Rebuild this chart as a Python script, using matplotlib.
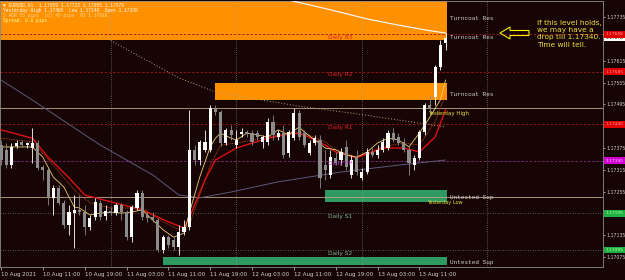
import matplotlib
matplotlib.use('Agg')
import matplotlib.pyplot as plt
import matplotlib.transforms as mtransforms
from matplotlib.patches import Rectangle, Polygon
import numpy as np

# ---------------- data ----------------
opens = [1.17383,1.17370,1.17328,1.17381,1.17392,1.17383,1.17375,1.17389,1.17323,1.17315,
 1.17238,1.17265,1.17224,1.17163,1.17196,1.17205,1.17199,1.17158,1.17185,1.17224,
 1.17188,1.17202,1.17196,1.17218,1.17199,1.17130,1.17210,1.17251,1.17191,1.17185,
 1.17177,1.17095,1.17130,1.17122,1.17103,1.17144,1.17158,1.17370,1.17342,1.17370,
 1.17370,1.17485,1.17474,1.17389,1.17425,1.17383,1.17414,1.17419,1.17416,1.17416,
 1.17392,1.17392,1.17447,1.17405,1.17416,1.17361,1.17402,1.17471,1.17416,1.17361,
 1.17389,1.17397,1.17328,1.17301,1.17348,1.17342,1.17378,1.17301,1.17350,1.17293,
 1.17309,1.17364,1.17356,1.17370,1.17375,1.17416,1.17405,1.17392,1.17370,1.17328,
 1.17348,1.17419,1.17493,1.17515,1.17598,1.17664]
highs = [1.17397,1.17389,1.17389,1.17397,1.17397,1.17392,1.17430,1.17397,1.17328,1.17320,
 1.17273,1.17273,1.17232,1.17218,1.17246,1.17246,1.17218,1.17191,1.17238,1.17232,
 1.17218,1.17213,1.17224,1.17224,1.17205,1.17218,1.17260,1.17260,1.17199,1.17199,
 1.17183,1.17136,1.17136,1.17130,1.17163,1.17177,1.17480,1.17383,1.17397,1.17425,
 1.17493,1.17493,1.17480,1.17430,1.17438,1.17425,1.17430,1.17425,1.17425,1.17425,
 1.17411,1.17457,1.17466,1.17425,1.17438,1.17425,1.17485,1.17480,1.17425,1.17397,
 1.17411,1.17411,1.17370,1.17370,1.17364,1.17375,1.17397,1.17356,1.17370,1.17320,
 1.17375,1.17375,1.17383,1.17402,1.17425,1.17430,1.17416,1.17402,1.17383,1.17356,
 1.17425,1.17499,1.17521,1.17603,1.17672,1.17691]
lows = [1.17328,1.17320,1.17320,1.17375,1.17378,1.17375,1.17334,1.17315,1.17287,1.17218,
 1.17191,1.17218,1.17155,1.17136,1.17100,1.17191,1.17136,1.17150,1.17177,1.17177,
 1.17177,1.17191,1.17191,1.17177,1.17122,1.17117,1.17205,1.17177,1.17172,1.17172,
 1.17089,1.17086,1.17100,1.17095,1.17081,1.17136,1.17150,1.17328,1.17328,1.17364,
 1.17364,1.17466,1.17381,1.17383,1.17397,1.17375,1.17405,1.17405,1.17383,1.17397,
 1.17375,1.17383,1.17397,1.17397,1.17348,1.17350,1.17397,1.17397,1.17378,1.17356,
 1.17383,1.17265,1.17287,1.17293,1.17328,1.17328,1.17315,1.17293,1.17301,1.17287,
 1.17304,1.17350,1.17348,1.17364,1.17370,1.17392,1.17383,1.17364,1.17301,1.17315,
 1.17342,1.17411,1.17474,1.17493,1.17590,1.17645]
closes = [1.17342,1.17328,1.17378,1.17389,1.17383,1.17389,1.17389,1.17320,1.17315,1.17240,
 1.17265,1.17224,1.17163,1.17199,1.17205,1.17199,1.17158,1.17183,1.17227,1.17185,
 1.17202,1.17196,1.17218,1.17199,1.17130,1.17213,1.17251,1.17185,1.17183,1.17177,
 1.17095,1.17130,1.17108,1.17103,1.17144,1.17158,1.17370,1.17342,1.17392,1.17392,
 1.17485,1.17474,1.17389,1.17425,1.17411,1.17397,1.17419,1.17414,1.17392,1.17405,
 1.17405,1.17447,1.17411,1.17416,1.17356,1.17419,1.17471,1.17405,1.17383,1.17389,
 1.17402,1.17293,1.17315,1.17350,1.17334,1.17364,1.17323,1.17342,1.17309,1.17309,
 1.17364,1.17356,1.17370,1.17392,1.17416,1.17397,1.17389,1.17370,1.17334,1.17348,
 1.17419,1.17493,1.17485,1.17598,1.17658,1.17678]

# indicator lines (bar index, price)
red_idx = [0,6,9,13,16,21,27,32,35,36,37,39,41,45,51,56,58,62,64,68,73,77,80,83,85]
red_val = [1.17425,1.17402,1.17350,1.17293,1.17246,1.17227,1.17205,1.17172,1.17155,1.17183,
           1.17218,1.17287,1.17342,1.17375,1.17402,1.17416,1.17411,1.17383,1.17364,1.17348,
           1.17375,1.17375,1.17364,1.17405,1.17480]
yel_idx = [0,3,6,8,10,12,14,15,17,19,21,23,25,27,29,31,33,35,36,38,40,41,42,44,45,47,49,51,53,55,
           57,58,60,62,64,66,68,70,72,74,76,78,80,82,84,85]
yel_val = [1.17378,1.17378,1.17378,1.17350,1.17295,1.17268,1.17213,1.17210,1.17191,1.17196,
           1.17199,1.17196,1.17199,1.17205,1.17177,1.17150,1.17130,1.17141,1.17196,1.17295,
           1.17378,1.17402,1.17416,1.17402,1.17397,1.17416,1.17411,1.17405,1.17425,1.17411,
           1.17433,1.17419,1.17397,1.17375,1.17370,1.17356,1.17350,1.17364,1.17389,1.17402,
           1.17397,1.17378,1.17416,1.17460,1.17507,1.17562]
mid_idx = [0,6,10,14,17,21,27,31,35,36,38,40,42,45,51,56,58,62,64,68,73,77,80,83,85]
mid_val = [1.17402,1.17392,1.17328,1.17260,1.17224,1.17210,1.17210,1.17172,1.17144,1.17163,
           1.17246,1.17328,1.17383,1.17389,1.17405,1.17419,1.17416,1.17392,1.17370,1.17350,
           1.17378,1.17389,1.17383,1.17447,1.17521]
slate_idx = [0,6,19,29,34,38,44,53,65,76,85]
slate_val = [1.17562,1.17507,1.17383,1.17301,1.17246,1.17238,1.17254,1.17282,1.17309,1.17328,1.17342]
tan_idx = [19,27,34,41,50,57,67,76,85]
tan_val = [1.17686,1.17623,1.17568,1.17529,1.17507,1.17490,1.17471,1.17452,1.17433]
white_idx = [48,55,63,70,76,81,85]
white_val = [1.17810,1.17782,1.17755,1.17730,1.17713,1.17700,1.17691]

# pivot levels
level_names = ['Daily R3', 'Daily R2', 'Daily R1', 'Daily PP', 'Daily S1', 'Daily S2']
level_values = [1.17688, 1.17585, 1.17440, 1.17340, 1.17195, 1.17095]
yesterday_high = 1.17485
yesterday_low = 1.17240
current_price = 1.17678

# supply / demand zones
zone_start = [-1, 41, 62, 31]
zone_top = [1.17800, 1.17554, 1.17260, 1.17075]
zone_bottom = [1.17672, 1.17507, 1.17227, 1.17053]
zone_kind = ['res', 'res', 'sup', 'sup']
zone_label_prices = [1.17730, 1.17678, 1.17521, 1.17240, 1.17059]
zone_label_texts = ['Turncoat Res', 'Turncoat Res', 'Turncoat Res', 'Untested Sup', 'Untested Sup']

# axes labels
x_tick_idx = [0, 8, 16, 24, 32, 40, 48, 56, 64, 72, 80]
x_tick_labels = ['10 Aug 2021', '10 Aug 11:00', '10 Aug 19:00', '11 Aug 03:00', '11 Aug 11:00',
                 '11 Aug 19:00', '12 Aug 03:00', '12 Aug 11:00', '12 Aug 19:00', '13 Aug 03:00',
                 '13 Aug 11:00']
day_sep_idx = [21, 45, 69, 93]
price_ticks = [1.17735, 1.17615, 1.17555, 1.17495, 1.17375, 1.17315, 1.17255, 1.17135, 1.17075]

# ---------------- style ----------------
BG = '#170404'
BULL = '#ffffff'
BEAR = '#8c8c8c'
ORANGE = '#ff9000'
GREEN = '#2e9a62'
W, H = 625, 280

fig = plt.figure(figsize=(W / 100, H / 100), dpi=100, facecolor=BG)
ax = fig.add_axes([0, 13 / H, 603 / W, 266 / H])
ax.set_facecolor(BG)
ax.set_xlim(-1 / 5.23, 602 / 5.23)
ax.set_ylim(1.170478, 1.177793)
for s in ax.spines.values():
    s.set_color('#8c8c8c')
    s.set_linewidth(0.6)

# zones
last = len(opens) - 1
for st, tp, bt, kd in zip(zone_start, zone_top, zone_bottom, zone_kind):
    ax.add_patch(Rectangle((st, bt), last + 0.2 - st, tp - bt,
                           facecolor=ORANGE if kd == 'res' else GREEN,
                           edgecolor='none', zorder=1))
for p, t in zip(zone_label_prices, zone_label_texts):
    ax.text(last + 0.9, p, t, fontsize=4.3, family='Liberation Mono', color='#d0d0d0',
            va='center', ha='left', zorder=6)

# day separators
for d in day_sep_idx:
    ax.axvline(d, color='#9a9a9a', lw=0.5, ls=(0, (1, 2)), zorder=2)

# pivot lines
lvl_line_col = ['#9a1515', '#9a1515', '#9a1515', '#8a2a8a', '#707070', '#707070']
lvl_txt_col = ['#e02020', '#e02020', '#e02020', '#b040c0', '#7fb88f', '#7fb88f']
lvl_ls = [(0, (3, 2))] * 4 + [(0, (1, 2))] * 2
for name, v, lc, tc, ls in zip(level_names, level_values, lvl_line_col, lvl_txt_col, lvl_ls):
    ax.axhline(v, color=lc, lw=0.6, ls=ls, zorder=2)
    ax.annotate(name, (64.8, v), xytext=(0, -0.5), textcoords='offset points',
                fontsize=4.2, color=tc, ha='center', va='top', zorder=6)
for v in (yesterday_high, yesterday_low):
    ax.axhline(v, color='#bfa886', lw=0.6, zorder=2)
ax.text(81.6, 1.17471, 'Yesterday High', fontsize=4, color='#e8e040', va='center', zorder=6)
ax.text(81.4, 1.17226, 'Yesterday Low', fontsize=3.6, color='#e8e040', va='center', zorder=6)

# indicator lines
ax.plot(slate_idx, slate_val, color='#5c5a7a', lw=0.7, zorder=3)
ax.plot(tan_idx, tan_val, color='#b8a47c', lw=0.7, ls=(0, (1, 2)), zorder=3)
ax.plot(white_idx, white_val, color='#f4f4f4', lw=0.9, zorder=3)
ax.plot(mid_idx, mid_val, color='#d05020', lw=0.6, ls=(0, (1, 1)), zorder=3)
ax.plot(red_idx, red_val, color='#e01010', lw=1.0, zorder=3)
ax.plot(yel_idx, yel_val, color='#e8d070', lw=0.6, zorder=3)

# candles
for i, (o, h, l, c) in enumerate(zip(opens, highs, lows, closes)):
    col = BULL if c >= o else BEAR
    ax.vlines(i, l, h, color=col, lw=0.6, zorder=4)
    ax.add_patch(Rectangle((i - 0.3, min(o, c)), 0.6, max(abs(c - o), 0.00002),
                           facecolor=col, edgecolor='none', zorder=5))

# axes ticks
ax.yaxis.tick_right()
ax.set_yticks(price_ticks)
ax.set_yticklabels([f'{p:.5f}' for p in price_ticks])
ax.tick_params(axis='y', colors='#d0d0d0', labelsize=3.3, length=1.5, width=0.5, pad=1.2)
ax.set_xticks(x_tick_idx)
ax.set_xticklabels(x_tick_labels, ha='left')
ax.tick_params(axis='x', colors='#d0d0d0', labelsize=4, length=2, width=0.5, pad=1.5)

# right-axis price boxes
bt = mtransforms.blended_transform_factory(ax.transAxes, ax.transData)
ax.text(1.0045, current_price, f'{current_price:.5f}', transform=bt, fontsize=3.2, color='#000000',
        va='center', ha='left', clip_on=False, zorder=7,
        bbox=dict(boxstyle='square,pad=0.3', fc='#ffffff', ec='none'))
box_cols = ['#e00000', '#e00000', '#e00000', '#d000d0', '#20b040', '#20b040']
box_txt = ['#ff9a9a', '#ff9a9a', '#ff9a9a', '#ffc0ff', '#b0ffb0', '#b0ffb0']
for v, bc, tc in zip(level_values, box_cols, box_txt):
    ax.text(1.0045, v, f'{v:.5f}', transform=bt, fontsize=3.2, color=tc,
            va='center', ha='left', clip_on=False, zorder=8,
            bbox=dict(boxstyle='square,pad=0.3', fc=bc, ec='none'))

# top-left info text
info = [('\u25bc EURUSD,H1  1.17659 1.17722 1.17655 1.17678', '#ffffff'),
        ('Yesterday High 1.17485  Low 1.17240  Open 1.17338', '#ffffff'),
        ('3 ADR 55 pips  (d) 45 pips  R3 1.17688', '#ffd890'),
        ('Spread: 0.0 pips', '#ffff90')]
for k, (t, c) in enumerate(info):
    fig.text(3 / W, 1 - (6 + 4.8 * k) / H, t, fontsize=3.3, color=c,
             family='Liberation Mono', va='center', ha='left')

# annotation
fig.text(537 / W, 1 - 20 / H, 'If this level holds,\nwe may have a\ndrop till 1.17340.\nTime will tell.',
         fontsize=5.3, color='#f0e040', va='top', ha='left', linespacing=1.25)
arrow_px = [(500, 33), (510, 27), (510, 30.5), (529, 30.5), (529, 35.5), (510, 35.5), (510, 39)]
arrow = Polygon([(x / 100, (H - y) / 100) for x, y in arrow_px], closed=True, fill=False,
                edgecolor='#f0f000', lw=0.8, transform=fig.dpi_scale_trans)
fig.add_artist(arrow)

fig.savefig('out.png', dpi=100, facecolor=BG)
